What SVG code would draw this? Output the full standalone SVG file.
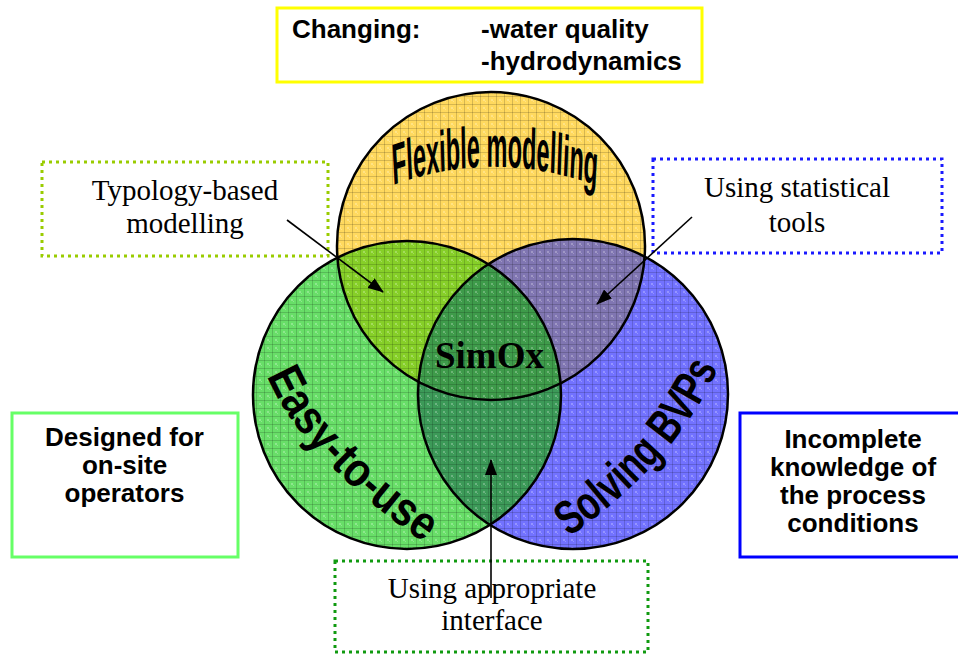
<svg xmlns="http://www.w3.org/2000/svg" width="958" height="655" viewBox="0 0 958 655">
<style>
.serif{font-family:"Liberation Serif","Times New Roman",serif;font-size:29px;fill:#000;text-anchor:middle}
.sans{font-family:"Liberation Sans",Arial,sans-serif;font-weight:bold;font-size:26px;fill:#000}
.mid{text-anchor:middle}
.word{font-family:"Liberation Sans Narrow","Liberation Sans",Arial,sans-serif;font-weight:bold;fill:#000}
.ring{fill:none;stroke:#000;stroke-width:2.5}
.dots{fill:none;stroke-width:3;stroke-dasharray:3 4}
.solid{fill:none;stroke-width:3}
.conn{stroke:#000;stroke-width:1.6;fill:none;marker-end:url(#ah)}
</style>
<defs>
<marker id="ah" markerWidth="16" markerHeight="12" refX="15" refY="6" orient="auto" markerUnits="userSpaceOnUse">
<path d="M0,0 L16,6 L0,12 Z" fill="#000"/>
</marker>
<pattern id="grid" width="8" height="8" patternUnits="userSpaceOnUse">
<path d="M0 0.5H8M0.5 0V8" stroke="#000" stroke-opacity="0.16" stroke-width="1"/>
<rect x="3" y="3" width="2" height="2" fill="#fff" fill-opacity="0.25"/>
<rect x="5" y="5" width="1" height="1" fill="#fff" fill-opacity="0.25"/>
</pattern>
<clipPath id="cy"><circle cx="491" cy="246" r="154"/></clipPath>
<clipPath id="cg"><circle cx="407" cy="395" r="154"/></clipPath>
<clipPath id="call"><circle cx="491" cy="246" r="154"/><circle cx="407" cy="395" r="154"/><circle cx="573" cy="394" r="155"/></clipPath>
<path id="pFlex" d="M-255 185 Q0 148 255 186"/>
<path id="pEasy" d="M267 376 Q300 455 420 540"/>
<path id="pSolv" d="M569 537 Q674 464 717 371"/>
</defs>

<g id="venn">
<circle cx="491" cy="246" r="154" fill="#FFD95E"/>
<circle cx="407" cy="395" r="154" fill="#68DE68"/>
<circle cx="573" cy="394" r="155" fill="#7272FF"/>
<circle cx="407" cy="395" r="154" fill="#86CF28" clip-path="url(#cy)"/>
<circle cx="573" cy="394" r="155" fill="#8076B2" clip-path="url(#cy)"/>
<circle cx="573" cy="394" r="155" fill="#3C9A58" clip-path="url(#cg)"/>
<g clip-path="url(#cy)"><circle cx="573" cy="394" r="155" fill="#3E9B4A" clip-path="url(#cg)"/></g>
<rect x="240" y="80" width="500" height="480" fill="url(#grid)" clip-path="url(#call)"/>
<circle class="ring" cx="491" cy="246" r="154"/>
<circle class="ring" cx="407" cy="395" r="154"/>
<circle class="ring" cx="573" cy="394" r="155"/>
</g>

<g id="flexible" transform="translate(495,0) scale(0.4,1)">
<text class="word" font-size="58" textLength="512" lengthAdjust="spacingAndGlyphs"><textPath href="#pFlex" startOffset="0">Flexible modelling</textPath></text>
</g>
<g id="easy">
<text class="word" font-size="48" textLength="232" lengthAdjust="spacingAndGlyphs"><textPath href="#pEasy" startOffset="0">Easy-to-use</textPath></text>
</g>
<g id="solving">
<text class="word" font-size="48" textLength="228" lengthAdjust="spacingAndGlyphs"><textPath href="#pSolv" startOffset="0">Solving BVPs</textPath></text>
</g>
<g id="simox">
<text x="489.5" y="368" font-family="'Liberation Serif','Times New Roman',serif" font-weight="bold" font-size="37" text-anchor="middle">SimOx</text>
</g>

<g id="changing">
<rect class="solid" x="277" y="8" width="425" height="74" stroke="#FFFF00"/>
<text class="sans" x="292" y="38">Changing:</text>
<text class="sans" x="481" y="38">-water quality</text>
<text class="sans" x="481" y="70">-hydrodynamics</text>
</g>

<g id="typology">
<rect class="dots" x="42" y="162" width="286" height="94" stroke="#99CC00"/>
<text class="serif" x="185" y="200">Typology-based</text>
<text class="serif" x="185" y="233">modelling</text>
</g>

<g id="statistical">
<rect class="dots" x="653" y="159" width="289" height="94" stroke="#1A1AFF"/>
<text class="serif" x="797" y="197">Using statistical</text>
<text class="serif" x="797" y="232">tools</text>
</g>

<g id="designed">
<rect class="solid" x="12" y="413" width="226" height="144" stroke="#66FF66"/>
<text class="sans mid" x="124.5" y="446">Designed for</text>
<text class="sans mid" x="124.5" y="474">on-site</text>
<text class="sans mid" x="124.5" y="502">operators</text>
</g>

<g id="incomplete">
<rect class="solid" x="740" y="413" width="222" height="144" stroke="#0000FF"/>
<text class="sans mid" x="853" y="448">Incomplete</text>
<text class="sans mid" x="853" y="476">knowledge of</text>
<text class="sans mid" x="853" y="504">the process</text>
<text class="sans mid" x="853" y="532">conditions</text>
</g>

<g id="interface">
<rect class="dots" x="335" y="561" width="313" height="91" stroke="#109A10"/>
<text class="serif" x="492" y="598">Using appropriate</text>
<text class="serif" x="492" y="630">interface</text>
</g>

<g id="connectors">
<line class="conn" x1="287" y1="220" x2="383" y2="292"/>
<line class="conn" x1="692" y1="217" x2="597" y2="304"/>
<line class="conn" x1="491" y1="598" x2="491" y2="460"/>
</g>
</svg>
